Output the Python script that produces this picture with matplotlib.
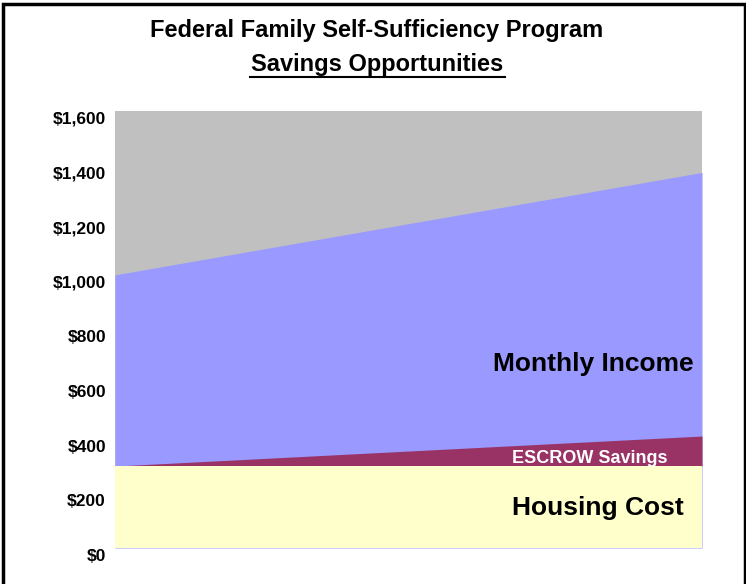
import matplotlib.pyplot as plt
from matplotlib.patches import Rectangle
import matplotlib.transforms as mtransforms

# data (two ends of the period)
periods = [0, 1]
housing = [300, 300]
escrow = [0, 110]
income_top = [1000, 1375]
ymax = 1600
yticks = [0, 200, 400, 600, 800, 1000, 1200, 1400, 1600]
ylabels = ['$0', '$200', '$400', '$600', '$800', '$1,000', '$1,200', '$1,400', '$1,600']

fam = ['Liberation Sans', 'DejaVu Sans']

W, H = 746, 584
fig = plt.figure(figsize=(W / 100, H / 100), dpi=100)
ax = fig.add_axes([115 / W, 1 - 548 / H, (702 - 115) / W, (548 - 111) / H])

esc_top = [h + e for h, e in zip(housing, escrow)]
ax.fill_between(periods, 0, ymax, color='#C0C0C0', lw=0)
ax.fill_between(periods, 0, income_top, color='#9999FF', lw=0)
ax.fill_between(periods, housing, esc_top, color='#993366', lw=0)
ax.fill_between(periods, 0, housing, color='#FFFFCC', lw=0)

ax.set_xlim(periods[0], periods[-1])
ax.set_ylim(0, ymax)
ax.set_xticks([])
ax.set_yticks(yticks)
ax.set_yticklabels(ylabels, family=fam, fontweight='bold', fontsize=12.5)
ax.tick_params(axis='y', length=0, pad=6.5)
off = mtransforms.ScaledTranslation(0, -7 / 100, fig.dpi_scale_trans)
for lab in ax.get_yticklabels():
    lab.set_transform(lab.get_transform() + off)
for s in ax.spines.values():
    s.set_visible(False)

ax.text(0.815, 675, 'Monthly Income', ha='center', va='center',
        family=fam, fontweight='bold', fontsize=19)
ax.text(0.808, 328, 'ESCROW Savings', ha='center', va='center',
        family=fam, fontweight='bold', fontsize=13, color='white')
ax.text(0.822, 148, 'Housing Cost', ha='center', va='center',
        family=fam, fontweight='bold', fontsize=19)

fig.text(377 / W, 1 - 31 / H, 'Federal Family Self-Sufficiency Program',
         ha='center', va='center', family=fam, fontweight='bold', fontsize=17)
fig.text(377 / W, 1 - 64 / H, 'Savings Opportunities',
         ha='center', va='center', family=fam, fontweight='bold', fontsize=17)
fig.add_artist(plt.Line2D([250 / W, 505 / W], [1 - 77 / H, 1 - 77 / H],
                          color='black', lw=1.5))

fig.add_artist(Rectangle((2.5 / W, -0.05), (745 - 2.5) / W, 1.05 - 3.5 / H,
                         fill=False, ec='black', lw=2.5, transform=fig.transFigure))

fig.savefig('out.png', dpi=100)
